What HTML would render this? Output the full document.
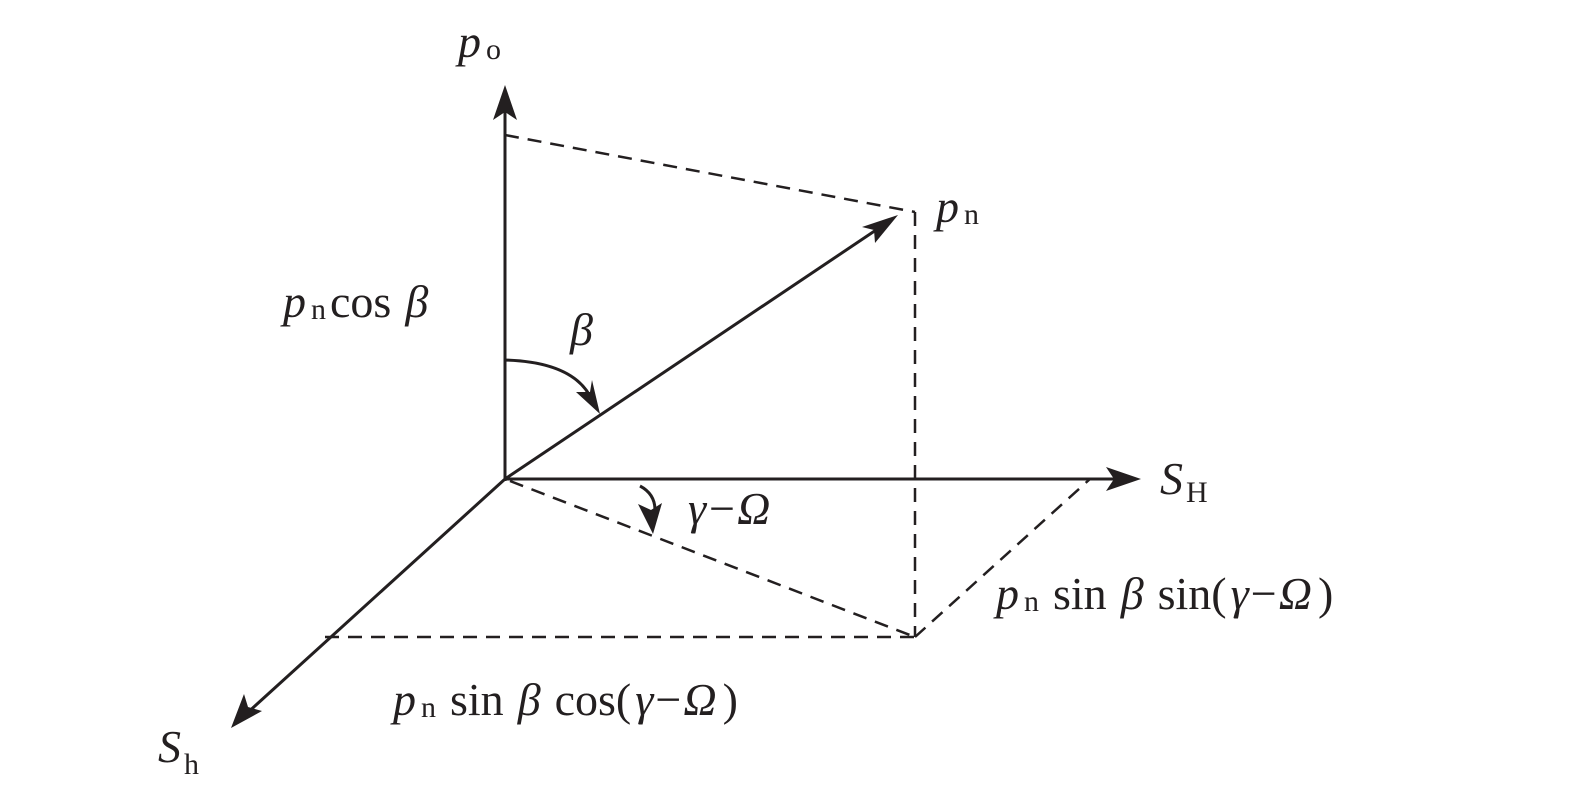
<!DOCTYPE html>
<html><head><style>body{margin:0;background:#fff}svg{display:block}</style></head><body>
<svg width="1575" height="801" viewBox="0 0 1575 801" xmlns="http://www.w3.org/2000/svg" font-family="Liberation Serif, serif" fill="#231f20">
<g stroke="#231f20" stroke-width="3" fill="none">
<line x1="505" y1="481" x2="505" y2="100"/>
<line x1="505" y1="479" x2="1120" y2="479"/>
<line x1="505" y1="479" x2="885" y2="224"/>
<line x1="505" y1="479" x2="245" y2="715"/>
<path d="M505 360 Q575 362 592 400"/>
<path d="M640 486 Q655 494 655 510"/>
</g>
<g stroke="#231f20" stroke-width="2.5" fill="none" stroke-dasharray="14,9">
<line x1="505" y1="135" x2="915" y2="212"/>
<line x1="915" y1="212" x2="915" y2="637"/>
<line x1="510" y1="481" x2="915" y2="637"/>
<line x1="915" y1="637" x2="1090" y2="479"/>
<line x1="325" y1="637" x2="915" y2="637"/>
</g>
<g fill="#231f20">
<polygon points="505,85 493,120 505,112 517,120"/>
<polygon points="1141,479 1106,467 1114,479 1106,491"/>
<polygon points="898,215 862,227 874,230 875,243"/>
<polygon points="231,728 244,694 248,707 262,711"/>
<polygon points="600,414 576,392 590,392 592,380"/>
<polygon points="653,534 638,504 651,510 662,503"/>
</g>
<g font-size="46">
<text x="458" y="57"><tspan font-style="italic">p</tspan><tspan font-size="30" dx="5" dy="2">o</tspan></text>
<text x="936" y="222"><tspan font-style="italic">p</tspan><tspan font-size="30" dx="5" dy="2">n</tspan></text>
<text x="283" y="317"><tspan font-style="italic">p</tspan><tspan font-size="30" dx="5" dy="2">n</tspan><tspan dx="4" dy="-2">cos</tspan><tspan dx="14" font-style="italic">β</tspan></text>
<text x="570" y="345" font-style="italic">β</text>
<text x="688" y="524" font-style="italic">γ−Ω</text>
<text x="1160" y="494"><tspan font-style="italic">S</tspan><tspan font-size="30" dx="3" dy="8">H</tspan></text>
<text x="158" y="762"><tspan font-style="italic">S</tspan><tspan font-size="30" dx="3" dy="12">h</tspan></text>
<text x="996" y="609"><tspan font-style="italic">p</tspan><tspan font-size="30" dx="5" dy="2">n</tspan><tspan dx="14" dy="-2">sin</tspan><tspan dx="14" font-style="italic">β</tspan><tspan dx="14">sin(</tspan><tspan dx="4" font-style="italic">γ</tspan><tspan dx="2">−</tspan><tspan dx="2" font-style="italic">Ω</tspan><tspan dx="6">)</tspan></text>
<text x="393" y="715"><tspan font-style="italic">p</tspan><tspan font-size="30" dx="5" dy="2">n</tspan><tspan dx="14" dy="-2">sin</tspan><tspan dx="14" font-style="italic">β</tspan><tspan dx="14">cos(</tspan><tspan dx="4" font-style="italic">γ</tspan><tspan dx="2">−</tspan><tspan dx="2" font-style="italic">Ω</tspan><tspan dx="6">)</tspan></text>
</g>
</svg>
</body></html>
